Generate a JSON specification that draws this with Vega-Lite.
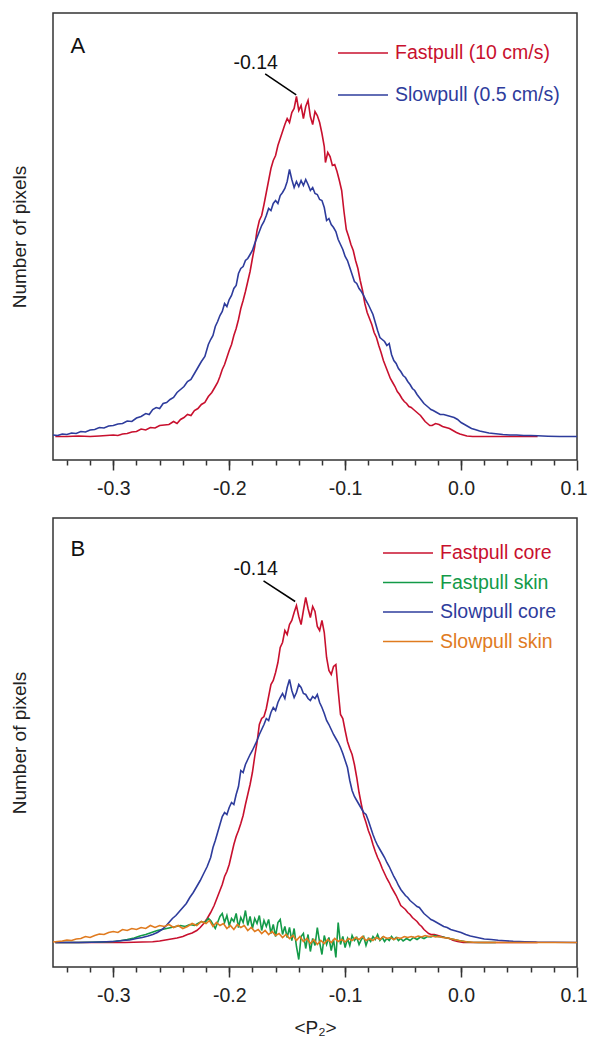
{
"$schema": "https://vega.github.io/schema/vega-lite/v6.json",
"padding": {"left": 9, "top": 12, "right": 15, "bottom": 80},
"background": "white",
"config": {
  "font": "Liberation Sans",
  "view": {"stroke": "#333333", "strokeWidth": 1.5},
  "axis": {"grid": false, "domain": false, "labelFont": "Liberation Sans", "titleFont": "Liberation Sans"},
  "axisY": {"title": "Number of pixels", "titleFontSize": 19, "titleFontWeight": "normal", "titleColor": "#222222", "titlePadding": 24, "labels": false, "ticks": false, "domain": false, "grid": false},
  "legend": {"labelFont": "Liberation Sans"}
},
"datasets": {
"a": [
{"s":"Fastpull (10 cm/s)","x":-0.35,"n":0},{"s":"Fastpull (10 cm/s)","x":-0.34,"n":0},{"s":"Fastpull (10 cm/s)","x":-0.33,"n":0.5},{"s":"Fastpull (10 cm/s)","x":-0.32,"n":0},{"s":"Fastpull (10 cm/s)","x":-0.312,"n":0.5},{"s":"Fastpull (10 cm/s)","x":-0.306,"n":1},{"s":"Fastpull (10 cm/s)","x":-0.3,"n":1.5},{"s":"Fastpull (10 cm/s)","x":-0.296,"n":1},{"s":"Fastpull (10 cm/s)","x":-0.292,"n":2.5},{"s":"Fastpull (10 cm/s)","x":-0.288,"n":3},{"s":"Fastpull (10 cm/s)","x":-0.284,"n":4.5},{"s":"Fastpull (10 cm/s)","x":-0.28,"n":5},{"s":"Fastpull (10 cm/s)","x":-0.276,"n":7.5},{"s":"Fastpull (10 cm/s)","x":-0.272,"n":6.5},{"s":"Fastpull (10 cm/s)","x":-0.268,"n":9},{"s":"Fastpull (10 cm/s)","x":-0.264,"n":8.5},{"s":"Fastpull (10 cm/s)","x":-0.26,"n":11},{"s":"Fastpull (10 cm/s)","x":-0.256,"n":11.5},{"s":"Fastpull (10 cm/s)","x":-0.252,"n":12},{"s":"Fastpull (10 cm/s)","x":-0.248,"n":15},{"s":"Fastpull (10 cm/s)","x":-0.245,"n":13},{"s":"Fastpull (10 cm/s)","x":-0.242,"n":17},{"s":"Fastpull (10 cm/s)","x":-0.239,"n":19},{"s":"Fastpull (10 cm/s)","x":-0.236,"n":22},{"s":"Fastpull (10 cm/s)","x":-0.233,"n":21},{"s":"Fastpull (10 cm/s)","x":-0.23,"n":26},{"s":"Fastpull (10 cm/s)","x":-0.227,"n":28},{"s":"Fastpull (10 cm/s)","x":-0.224,"n":32},{"s":"Fastpull (10 cm/s)","x":-0.221,"n":34},{"s":"Fastpull (10 cm/s)","x":-0.218,"n":40},{"s":"Fastpull (10 cm/s)","x":-0.215,"n":44},{"s":"Fastpull (10 cm/s)","x":-0.212,"n":50},{"s":"Fastpull (10 cm/s)","x":-0.21,"n":54},{"s":"Fastpull (10 cm/s)","x":-0.208,"n":60},{"s":"Fastpull (10 cm/s)","x":-0.206,"n":67},{"s":"Fastpull (10 cm/s)","x":-0.204,"n":72},{"s":"Fastpull (10 cm/s)","x":-0.202,"n":79},{"s":"Fastpull (10 cm/s)","x":-0.2,"n":86},{"s":"Fastpull (10 cm/s)","x":-0.198,"n":92},{"s":"Fastpull (10 cm/s)","x":-0.196,"n":101},{"s":"Fastpull (10 cm/s)","x":-0.194,"n":108},{"s":"Fastpull (10 cm/s)","x":-0.192,"n":117},{"s":"Fastpull (10 cm/s)","x":-0.19,"n":128},{"s":"Fastpull (10 cm/s)","x":-0.188,"n":136},{"s":"Fastpull (10 cm/s)","x":-0.186,"n":145},{"s":"Fastpull (10 cm/s)","x":-0.184,"n":155},{"s":"Fastpull (10 cm/s)","x":-0.182,"n":165},{"s":"Fastpull (10 cm/s)","x":-0.18,"n":178},{"s":"Fastpull (10 cm/s)","x":-0.178,"n":190},{"s":"Fastpull (10 cm/s)","x":-0.176,"n":206},{"s":"Fastpull (10 cm/s)","x":-0.174,"n":216},{"s":"Fastpull (10 cm/s)","x":-0.172,"n":221},{"s":"Fastpull (10 cm/s)","x":-0.17,"n":232},{"s":"Fastpull (10 cm/s)","x":-0.168,"n":244},{"s":"Fastpull (10 cm/s)","x":-0.166,"n":256},{"s":"Fastpull (10 cm/s)","x":-0.164,"n":268},{"s":"Fastpull (10 cm/s)","x":-0.162,"n":276},{"s":"Fastpull (10 cm/s)","x":-0.16,"n":281},{"s":"Fastpull (10 cm/s)","x":-0.158,"n":291},{"s":"Fastpull (10 cm/s)","x":-0.156,"n":298},{"s":"Fastpull (10 cm/s)","x":-0.154,"n":305},{"s":"Fastpull (10 cm/s)","x":-0.152,"n":312},{"s":"Fastpull (10 cm/s)","x":-0.15,"n":318},{"s":"Fastpull (10 cm/s)","x":-0.148,"n":314},{"s":"Fastpull (10 cm/s)","x":-0.146,"n":324},{"s":"Fastpull (10 cm/s)","x":-0.144,"n":328},{"s":"Fastpull (10 cm/s)","x":-0.142,"n":340},{"s":"Fastpull (10 cm/s)","x":-0.14,"n":326},{"s":"Fastpull (10 cm/s)","x":-0.138,"n":331},{"s":"Fastpull (10 cm/s)","x":-0.136,"n":318},{"s":"Fastpull (10 cm/s)","x":-0.134,"n":330},{"s":"Fastpull (10 cm/s)","x":-0.132,"n":336},{"s":"Fastpull (10 cm/s)","x":-0.13,"n":320},{"s":"Fastpull (10 cm/s)","x":-0.128,"n":312},{"s":"Fastpull (10 cm/s)","x":-0.126,"n":325},{"s":"Fastpull (10 cm/s)","x":-0.124,"n":321},{"s":"Fastpull (10 cm/s)","x":-0.122,"n":314},{"s":"Fastpull (10 cm/s)","x":-0.12,"n":303},{"s":"Fastpull (10 cm/s)","x":-0.118,"n":290},{"s":"Fastpull (10 cm/s)","x":-0.117,"n":274},{"s":"Fastpull (10 cm/s)","x":-0.115,"n":284},{"s":"Fastpull (10 cm/s)","x":-0.113,"n":280},{"s":"Fastpull (10 cm/s)","x":-0.111,"n":271},{"s":"Fastpull (10 cm/s)","x":-0.109,"n":272},{"s":"Fastpull (10 cm/s)","x":-0.107,"n":265},{"s":"Fastpull (10 cm/s)","x":-0.105,"n":256},{"s":"Fastpull (10 cm/s)","x":-0.103,"n":246},{"s":"Fastpull (10 cm/s)","x":-0.101,"n":225},{"s":"Fastpull (10 cm/s)","x":-0.099,"n":207},{"s":"Fastpull (10 cm/s)","x":-0.097,"n":200},{"s":"Fastpull (10 cm/s)","x":-0.095,"n":192},{"s":"Fastpull (10 cm/s)","x":-0.093,"n":186},{"s":"Fastpull (10 cm/s)","x":-0.091,"n":176},{"s":"Fastpull (10 cm/s)","x":-0.089,"n":168},{"s":"Fastpull (10 cm/s)","x":-0.087,"n":156},{"s":"Fastpull (10 cm/s)","x":-0.085,"n":146},{"s":"Fastpull (10 cm/s)","x":-0.083,"n":133},{"s":"Fastpull (10 cm/s)","x":-0.081,"n":124},{"s":"Fastpull (10 cm/s)","x":-0.079,"n":118},{"s":"Fastpull (10 cm/s)","x":-0.077,"n":112},{"s":"Fastpull (10 cm/s)","x":-0.075,"n":104},{"s":"Fastpull (10 cm/s)","x":-0.073,"n":99},{"s":"Fastpull (10 cm/s)","x":-0.071,"n":91},{"s":"Fastpull (10 cm/s)","x":-0.069,"n":84},{"s":"Fastpull (10 cm/s)","x":-0.067,"n":76},{"s":"Fastpull (10 cm/s)","x":-0.065,"n":70},{"s":"Fastpull (10 cm/s)","x":-0.063,"n":64},{"s":"Fastpull (10 cm/s)","x":-0.061,"n":58},{"s":"Fastpull (10 cm/s)","x":-0.059,"n":54},{"s":"Fastpull (10 cm/s)","x":-0.057,"n":50},{"s":"Fastpull (10 cm/s)","x":-0.055,"n":45},{"s":"Fastpull (10 cm/s)","x":-0.053,"n":42},{"s":"Fastpull (10 cm/s)","x":-0.051,"n":38},{"s":"Fastpull (10 cm/s)","x":-0.049,"n":35},{"s":"Fastpull (10 cm/s)","x":-0.047,"n":33},{"s":"Fastpull (10 cm/s)","x":-0.045,"n":30},{"s":"Fastpull (10 cm/s)","x":-0.043,"n":29},{"s":"Fastpull (10 cm/s)","x":-0.041,"n":27},{"s":"Fastpull (10 cm/s)","x":-0.039,"n":25},{"s":"Fastpull (10 cm/s)","x":-0.037,"n":23},{"s":"Fastpull (10 cm/s)","x":-0.035,"n":21},{"s":"Fastpull (10 cm/s)","x":-0.033,"n":18},{"s":"Fastpull (10 cm/s)","x":-0.031,"n":15},{"s":"Fastpull (10 cm/s)","x":-0.029,"n":13},{"s":"Fastpull (10 cm/s)","x":-0.027,"n":11},{"s":"Fastpull (10 cm/s)","x":-0.025,"n":11},{"s":"Fastpull (10 cm/s)","x":-0.022,"n":13},{"s":"Fastpull (10 cm/s)","x":-0.019,"n":12},{"s":"Fastpull (10 cm/s)","x":-0.016,"n":10},{"s":"Fastpull (10 cm/s)","x":-0.013,"n":9},{"s":"Fastpull (10 cm/s)","x":-0.01,"n":8},{"s":"Fastpull (10 cm/s)","x":-0.007,"n":6},{"s":"Fastpull (10 cm/s)","x":-0.004,"n":4},{"s":"Fastpull (10 cm/s)","x":-0.001,"n":2.5},{"s":"Fastpull (10 cm/s)","x":0.002,"n":1.5},{"s":"Fastpull (10 cm/s)","x":0.005,"n":0.5},{"s":"Fastpull (10 cm/s)","x":0.01,"n":0},{"s":"Fastpull (10 cm/s)","x":0.03,"n":0},{"s":"Fastpull (10 cm/s)","x":0.05,"n":0},{"s":"Fastpull (10 cm/s)","x":0.066,"n":0},
{"s":"Slowpull (0.5 cm/s)","x":-0.352,"n":1.5},{"s":"Slowpull (0.5 cm/s)","x":-0.348,"n":1},{"s":"Slowpull (0.5 cm/s)","x":-0.344,"n":2.5},{"s":"Slowpull (0.5 cm/s)","x":-0.34,"n":2},{"s":"Slowpull (0.5 cm/s)","x":-0.336,"n":3.5},{"s":"Slowpull (0.5 cm/s)","x":-0.332,"n":3},{"s":"Slowpull (0.5 cm/s)","x":-0.328,"n":5},{"s":"Slowpull (0.5 cm/s)","x":-0.324,"n":4.5},{"s":"Slowpull (0.5 cm/s)","x":-0.32,"n":6.5},{"s":"Slowpull (0.5 cm/s)","x":-0.316,"n":7},{"s":"Slowpull (0.5 cm/s)","x":-0.312,"n":9},{"s":"Slowpull (0.5 cm/s)","x":-0.308,"n":8.5},{"s":"Slowpull (0.5 cm/s)","x":-0.304,"n":10.5},{"s":"Slowpull (0.5 cm/s)","x":-0.3,"n":11},{"s":"Slowpull (0.5 cm/s)","x":-0.296,"n":12.5},{"s":"Slowpull (0.5 cm/s)","x":-0.292,"n":13},{"s":"Slowpull (0.5 cm/s)","x":-0.288,"n":15.5},{"s":"Slowpull (0.5 cm/s)","x":-0.284,"n":15},{"s":"Slowpull (0.5 cm/s)","x":-0.28,"n":18.5},{"s":"Slowpull (0.5 cm/s)","x":-0.276,"n":20},{"s":"Slowpull (0.5 cm/s)","x":-0.272,"n":23},{"s":"Slowpull (0.5 cm/s)","x":-0.269,"n":22},{"s":"Slowpull (0.5 cm/s)","x":-0.266,"n":27},{"s":"Slowpull (0.5 cm/s)","x":-0.263,"n":29},{"s":"Slowpull (0.5 cm/s)","x":-0.26,"n":28},{"s":"Slowpull (0.5 cm/s)","x":-0.257,"n":33},{"s":"Slowpull (0.5 cm/s)","x":-0.254,"n":34},{"s":"Slowpull (0.5 cm/s)","x":-0.251,"n":37},{"s":"Slowpull (0.5 cm/s)","x":-0.248,"n":39},{"s":"Slowpull (0.5 cm/s)","x":-0.245,"n":44},{"s":"Slowpull (0.5 cm/s)","x":-0.242,"n":47},{"s":"Slowpull (0.5 cm/s)","x":-0.239,"n":50},{"s":"Slowpull (0.5 cm/s)","x":-0.236,"n":55},{"s":"Slowpull (0.5 cm/s)","x":-0.233,"n":57},{"s":"Slowpull (0.5 cm/s)","x":-0.23,"n":63},{"s":"Slowpull (0.5 cm/s)","x":-0.227,"n":69},{"s":"Slowpull (0.5 cm/s)","x":-0.224,"n":75},{"s":"Slowpull (0.5 cm/s)","x":-0.221,"n":80},{"s":"Slowpull (0.5 cm/s)","x":-0.218,"n":92},{"s":"Slowpull (0.5 cm/s)","x":-0.216,"n":97},{"s":"Slowpull (0.5 cm/s)","x":-0.214,"n":101},{"s":"Slowpull (0.5 cm/s)","x":-0.212,"n":110},{"s":"Slowpull (0.5 cm/s)","x":-0.21,"n":115},{"s":"Slowpull (0.5 cm/s)","x":-0.208,"n":121},{"s":"Slowpull (0.5 cm/s)","x":-0.206,"n":125},{"s":"Slowpull (0.5 cm/s)","x":-0.204,"n":133},{"s":"Slowpull (0.5 cm/s)","x":-0.202,"n":130},{"s":"Slowpull (0.5 cm/s)","x":-0.2,"n":137},{"s":"Slowpull (0.5 cm/s)","x":-0.198,"n":141},{"s":"Slowpull (0.5 cm/s)","x":-0.196,"n":148},{"s":"Slowpull (0.5 cm/s)","x":-0.194,"n":151},{"s":"Slowpull (0.5 cm/s)","x":-0.192,"n":163},{"s":"Slowpull (0.5 cm/s)","x":-0.19,"n":168},{"s":"Slowpull (0.5 cm/s)","x":-0.188,"n":170},{"s":"Slowpull (0.5 cm/s)","x":-0.186,"n":176},{"s":"Slowpull (0.5 cm/s)","x":-0.184,"n":178},{"s":"Slowpull (0.5 cm/s)","x":-0.182,"n":182},{"s":"Slowpull (0.5 cm/s)","x":-0.18,"n":186},{"s":"Slowpull (0.5 cm/s)","x":-0.178,"n":193},{"s":"Slowpull (0.5 cm/s)","x":-0.176,"n":199},{"s":"Slowpull (0.5 cm/s)","x":-0.174,"n":205},{"s":"Slowpull (0.5 cm/s)","x":-0.172,"n":211},{"s":"Slowpull (0.5 cm/s)","x":-0.17,"n":215},{"s":"Slowpull (0.5 cm/s)","x":-0.168,"n":221},{"s":"Slowpull (0.5 cm/s)","x":-0.166,"n":228},{"s":"Slowpull (0.5 cm/s)","x":-0.164,"n":226},{"s":"Slowpull (0.5 cm/s)","x":-0.162,"n":233},{"s":"Slowpull (0.5 cm/s)","x":-0.16,"n":236},{"s":"Slowpull (0.5 cm/s)","x":-0.158,"n":233},{"s":"Slowpull (0.5 cm/s)","x":-0.156,"n":241},{"s":"Slowpull (0.5 cm/s)","x":-0.154,"n":244},{"s":"Slowpull (0.5 cm/s)","x":-0.152,"n":248},{"s":"Slowpull (0.5 cm/s)","x":-0.15,"n":255},{"s":"Slowpull (0.5 cm/s)","x":-0.148,"n":267},{"s":"Slowpull (0.5 cm/s)","x":-0.146,"n":257},{"s":"Slowpull (0.5 cm/s)","x":-0.144,"n":249},{"s":"Slowpull (0.5 cm/s)","x":-0.142,"n":255},{"s":"Slowpull (0.5 cm/s)","x":-0.14,"n":250},{"s":"Slowpull (0.5 cm/s)","x":-0.138,"n":256},{"s":"Slowpull (0.5 cm/s)","x":-0.136,"n":251},{"s":"Slowpull (0.5 cm/s)","x":-0.134,"n":257},{"s":"Slowpull (0.5 cm/s)","x":-0.132,"n":252},{"s":"Slowpull (0.5 cm/s)","x":-0.13,"n":246},{"s":"Slowpull (0.5 cm/s)","x":-0.128,"n":249},{"s":"Slowpull (0.5 cm/s)","x":-0.126,"n":243},{"s":"Slowpull (0.5 cm/s)","x":-0.124,"n":242},{"s":"Slowpull (0.5 cm/s)","x":-0.122,"n":237},{"s":"Slowpull (0.5 cm/s)","x":-0.12,"n":236},{"s":"Slowpull (0.5 cm/s)","x":-0.118,"n":229},{"s":"Slowpull (0.5 cm/s)","x":-0.116,"n":216},{"s":"Slowpull (0.5 cm/s)","x":-0.114,"n":218},{"s":"Slowpull (0.5 cm/s)","x":-0.112,"n":212},{"s":"Slowpull (0.5 cm/s)","x":-0.11,"n":209},{"s":"Slowpull (0.5 cm/s)","x":-0.108,"n":205},{"s":"Slowpull (0.5 cm/s)","x":-0.106,"n":197},{"s":"Slowpull (0.5 cm/s)","x":-0.104,"n":192},{"s":"Slowpull (0.5 cm/s)","x":-0.102,"n":187},{"s":"Slowpull (0.5 cm/s)","x":-0.1,"n":180},{"s":"Slowpull (0.5 cm/s)","x":-0.098,"n":176},{"s":"Slowpull (0.5 cm/s)","x":-0.096,"n":169},{"s":"Slowpull (0.5 cm/s)","x":-0.094,"n":162},{"s":"Slowpull (0.5 cm/s)","x":-0.092,"n":155},{"s":"Slowpull (0.5 cm/s)","x":-0.09,"n":153},{"s":"Slowpull (0.5 cm/s)","x":-0.088,"n":148},{"s":"Slowpull (0.5 cm/s)","x":-0.086,"n":145},{"s":"Slowpull (0.5 cm/s)","x":-0.084,"n":141},{"s":"Slowpull (0.5 cm/s)","x":-0.082,"n":136},{"s":"Slowpull (0.5 cm/s)","x":-0.08,"n":132},{"s":"Slowpull (0.5 cm/s)","x":-0.078,"n":127},{"s":"Slowpull (0.5 cm/s)","x":-0.076,"n":122},{"s":"Slowpull (0.5 cm/s)","x":-0.074,"n":114},{"s":"Slowpull (0.5 cm/s)","x":-0.072,"n":106},{"s":"Slowpull (0.5 cm/s)","x":-0.07,"n":99},{"s":"Slowpull (0.5 cm/s)","x":-0.068,"n":97},{"s":"Slowpull (0.5 cm/s)","x":-0.066,"n":95},{"s":"Slowpull (0.5 cm/s)","x":-0.064,"n":91},{"s":"Slowpull (0.5 cm/s)","x":-0.062,"n":93},{"s":"Slowpull (0.5 cm/s)","x":-0.06,"n":82},{"s":"Slowpull (0.5 cm/s)","x":-0.058,"n":76},{"s":"Slowpull (0.5 cm/s)","x":-0.056,"n":73},{"s":"Slowpull (0.5 cm/s)","x":-0.054,"n":68},{"s":"Slowpull (0.5 cm/s)","x":-0.052,"n":65},{"s":"Slowpull (0.5 cm/s)","x":-0.05,"n":61},{"s":"Slowpull (0.5 cm/s)","x":-0.048,"n":59},{"s":"Slowpull (0.5 cm/s)","x":-0.046,"n":55},{"s":"Slowpull (0.5 cm/s)","x":-0.044,"n":52},{"s":"Slowpull (0.5 cm/s)","x":-0.042,"n":48},{"s":"Slowpull (0.5 cm/s)","x":-0.04,"n":46},{"s":"Slowpull (0.5 cm/s)","x":-0.038,"n":42},{"s":"Slowpull (0.5 cm/s)","x":-0.036,"n":39},{"s":"Slowpull (0.5 cm/s)","x":-0.034,"n":36},{"s":"Slowpull (0.5 cm/s)","x":-0.032,"n":33},{"s":"Slowpull (0.5 cm/s)","x":-0.03,"n":31},{"s":"Slowpull (0.5 cm/s)","x":-0.028,"n":29},{"s":"Slowpull (0.5 cm/s)","x":-0.026,"n":27},{"s":"Slowpull (0.5 cm/s)","x":-0.024,"n":26},{"s":"Slowpull (0.5 cm/s)","x":-0.021,"n":24},{"s":"Slowpull (0.5 cm/s)","x":-0.018,"n":22},{"s":"Slowpull (0.5 cm/s)","x":-0.015,"n":22},{"s":"Slowpull (0.5 cm/s)","x":-0.012,"n":21},{"s":"Slowpull (0.5 cm/s)","x":-0.009,"n":20},{"s":"Slowpull (0.5 cm/s)","x":-0.006,"n":19},{"s":"Slowpull (0.5 cm/s)","x":-0.003,"n":17},{"s":"Slowpull (0.5 cm/s)","x":0,"n":14},{"s":"Slowpull (0.5 cm/s)","x":0.003,"n":12},{"s":"Slowpull (0.5 cm/s)","x":0.006,"n":10},{"s":"Slowpull (0.5 cm/s)","x":0.009,"n":8},{"s":"Slowpull (0.5 cm/s)","x":0.012,"n":7},{"s":"Slowpull (0.5 cm/s)","x":0.016,"n":5.5},{"s":"Slowpull (0.5 cm/s)","x":0.02,"n":4.5},{"s":"Slowpull (0.5 cm/s)","x":0.024,"n":3.5},{"s":"Slowpull (0.5 cm/s)","x":0.028,"n":3},{"s":"Slowpull (0.5 cm/s)","x":0.032,"n":2.5},{"s":"Slowpull (0.5 cm/s)","x":0.036,"n":2},{"s":"Slowpull (0.5 cm/s)","x":0.042,"n":1.5},{"s":"Slowpull (0.5 cm/s)","x":0.048,"n":1.5},{"s":"Slowpull (0.5 cm/s)","x":0.054,"n":1},{"s":"Slowpull (0.5 cm/s)","x":0.06,"n":1},{"s":"Slowpull (0.5 cm/s)","x":0.066,"n":0.8},{"s":"Slowpull (0.5 cm/s)","x":0.075,"n":0.3},{"s":"Slowpull (0.5 cm/s)","x":0.085,"n":0},{"s":"Slowpull (0.5 cm/s)","x":0.1,"n":0}
],
"b": [
{"s":"Fastpull core","x":-0.35,"n":0},{"s":"Fastpull core","x":-0.33,"n":0},{"s":"Fastpull core","x":-0.31,"n":0},{"s":"Fastpull core","x":-0.29,"n":0},{"s":"Fastpull core","x":-0.275,"n":0.5},{"s":"Fastpull core","x":-0.266,"n":0.7},{"s":"Fastpull core","x":-0.26,"n":1.5},{"s":"Fastpull core","x":-0.255,"n":2.5},{"s":"Fastpull core","x":-0.25,"n":3.5},{"s":"Fastpull core","x":-0.245,"n":4.5},{"s":"Fastpull core","x":-0.24,"n":6},{"s":"Fastpull core","x":-0.236,"n":8},{"s":"Fastpull core","x":-0.232,"n":9.5},{"s":"Fastpull core","x":-0.228,"n":12},{"s":"Fastpull core","x":-0.225,"n":15},{"s":"Fastpull core","x":-0.222,"n":19},{"s":"Fastpull core","x":-0.219,"n":24},{"s":"Fastpull core","x":-0.216,"n":30},{"s":"Fastpull core","x":-0.213,"n":37},{"s":"Fastpull core","x":-0.21,"n":46},{"s":"Fastpull core","x":-0.208,"n":52},{"s":"Fastpull core","x":-0.206,"n":58},{"s":"Fastpull core","x":-0.204,"n":66},{"s":"Fastpull core","x":-0.202,"n":71},{"s":"Fastpull core","x":-0.2,"n":78},{"s":"Fastpull core","x":-0.198,"n":88},{"s":"Fastpull core","x":-0.196,"n":98},{"s":"Fastpull core","x":-0.194,"n":106},{"s":"Fastpull core","x":-0.192,"n":112},{"s":"Fastpull core","x":-0.19,"n":119},{"s":"Fastpull core","x":-0.188,"n":127},{"s":"Fastpull core","x":-0.186,"n":138},{"s":"Fastpull core","x":-0.184,"n":148},{"s":"Fastpull core","x":-0.182,"n":158},{"s":"Fastpull core","x":-0.18,"n":170},{"s":"Fastpull core","x":-0.178,"n":186},{"s":"Fastpull core","x":-0.176,"n":200},{"s":"Fastpull core","x":-0.174,"n":218},{"s":"Fastpull core","x":-0.172,"n":224},{"s":"Fastpull core","x":-0.17,"n":226},{"s":"Fastpull core","x":-0.168,"n":234},{"s":"Fastpull core","x":-0.166,"n":246},{"s":"Fastpull core","x":-0.164,"n":258},{"s":"Fastpull core","x":-0.162,"n":262},{"s":"Fastpull core","x":-0.16,"n":270},{"s":"Fastpull core","x":-0.158,"n":280},{"s":"Fastpull core","x":-0.156,"n":295},{"s":"Fastpull core","x":-0.154,"n":300},{"s":"Fastpull core","x":-0.152,"n":312},{"s":"Fastpull core","x":-0.15,"n":308},{"s":"Fastpull core","x":-0.148,"n":318},{"s":"Fastpull core","x":-0.146,"n":322},{"s":"Fastpull core","x":-0.144,"n":330},{"s":"Fastpull core","x":-0.142,"n":337},{"s":"Fastpull core","x":-0.14,"n":326},{"s":"Fastpull core","x":-0.138,"n":318},{"s":"Fastpull core","x":-0.136,"n":332},{"s":"Fastpull core","x":-0.134,"n":345},{"s":"Fastpull core","x":-0.132,"n":334},{"s":"Fastpull core","x":-0.13,"n":325},{"s":"Fastpull core","x":-0.128,"n":336},{"s":"Fastpull core","x":-0.126,"n":331},{"s":"Fastpull core","x":-0.124,"n":316},{"s":"Fastpull core","x":-0.122,"n":312},{"s":"Fastpull core","x":-0.12,"n":322},{"s":"Fastpull core","x":-0.118,"n":310},{"s":"Fastpull core","x":-0.116,"n":285},{"s":"Fastpull core","x":-0.114,"n":272},{"s":"Fastpull core","x":-0.112,"n":268},{"s":"Fastpull core","x":-0.11,"n":276},{"s":"Fastpull core","x":-0.108,"n":278},{"s":"Fastpull core","x":-0.106,"n":252},{"s":"Fastpull core","x":-0.104,"n":228},{"s":"Fastpull core","x":-0.102,"n":224},{"s":"Fastpull core","x":-0.1,"n":212},{"s":"Fastpull core","x":-0.098,"n":201},{"s":"Fastpull core","x":-0.096,"n":194},{"s":"Fastpull core","x":-0.094,"n":188},{"s":"Fastpull core","x":-0.092,"n":178},{"s":"Fastpull core","x":-0.09,"n":165},{"s":"Fastpull core","x":-0.088,"n":150},{"s":"Fastpull core","x":-0.086,"n":138},{"s":"Fastpull core","x":-0.084,"n":127},{"s":"Fastpull core","x":-0.082,"n":120},{"s":"Fastpull core","x":-0.08,"n":112},{"s":"Fastpull core","x":-0.078,"n":106},{"s":"Fastpull core","x":-0.076,"n":98},{"s":"Fastpull core","x":-0.074,"n":91},{"s":"Fastpull core","x":-0.072,"n":85},{"s":"Fastpull core","x":-0.07,"n":80},{"s":"Fastpull core","x":-0.068,"n":74},{"s":"Fastpull core","x":-0.066,"n":69},{"s":"Fastpull core","x":-0.064,"n":64},{"s":"Fastpull core","x":-0.062,"n":60},{"s":"Fastpull core","x":-0.06,"n":55},{"s":"Fastpull core","x":-0.058,"n":51},{"s":"Fastpull core","x":-0.056,"n":47},{"s":"Fastpull core","x":-0.054,"n":42},{"s":"Fastpull core","x":-0.052,"n":37},{"s":"Fastpull core","x":-0.05,"n":35},{"s":"Fastpull core","x":-0.048,"n":33},{"s":"Fastpull core","x":-0.046,"n":30},{"s":"Fastpull core","x":-0.044,"n":28},{"s":"Fastpull core","x":-0.042,"n":25},{"s":"Fastpull core","x":-0.04,"n":23},{"s":"Fastpull core","x":-0.038,"n":21},{"s":"Fastpull core","x":-0.036,"n":18},{"s":"Fastpull core","x":-0.034,"n":16},{"s":"Fastpull core","x":-0.032,"n":13},{"s":"Fastpull core","x":-0.03,"n":11},{"s":"Fastpull core","x":-0.028,"n":9},{"s":"Fastpull core","x":-0.026,"n":8},{"s":"Fastpull core","x":-0.023,"n":8},{"s":"Fastpull core","x":-0.02,"n":7},{"s":"Fastpull core","x":-0.017,"n":6},{"s":"Fastpull core","x":-0.014,"n":5},{"s":"Fastpull core","x":-0.01,"n":4},{"s":"Fastpull core","x":-0.007,"n":2.3},{"s":"Fastpull core","x":-0.003,"n":1},{"s":"Fastpull core","x":0.002,"n":0},{"s":"Fastpull core","x":0.02,"n":0},{"s":"Fastpull core","x":0.05,"n":0},{"s":"Fastpull core","x":0.066,"n":0},
{"s":"Fastpull skin","x":-0.35,"n":0},{"s":"Fastpull skin","x":-0.33,"n":0},{"s":"Fastpull skin","x":-0.31,"n":0.5},{"s":"Fastpull skin","x":-0.3,"n":1},{"s":"Fastpull skin","x":-0.294,"n":1.7},{"s":"Fastpull skin","x":-0.288,"n":3},{"s":"Fastpull skin","x":-0.282,"n":4.5},{"s":"Fastpull skin","x":-0.277,"n":6.5},{"s":"Fastpull skin","x":-0.272,"n":8},{"s":"Fastpull skin","x":-0.267,"n":10},{"s":"Fastpull skin","x":-0.262,"n":12},{"s":"Fastpull skin","x":-0.258,"n":13},{"s":"Fastpull skin","x":-0.254,"n":14},{"s":"Fastpull skin","x":-0.25,"n":15},{"s":"Fastpull skin","x":-0.246,"n":16},{"s":"Fastpull skin","x":-0.242,"n":17},{"s":"Fastpull skin","x":-0.238,"n":16},{"s":"Fastpull skin","x":-0.234,"n":18},{"s":"Fastpull skin","x":-0.23,"n":17},{"s":"Fastpull skin","x":-0.227,"n":19},{"s":"Fastpull skin","x":-0.224,"n":21},{"s":"Fastpull skin","x":-0.221,"n":20},{"s":"Fastpull skin","x":-0.218,"n":24},{"s":"Fastpull skin","x":-0.216,"n":22},{"s":"Fastpull skin","x":-0.214,"n":18},{"s":"Fastpull skin","x":-0.212,"n":14},{"s":"Fastpull skin","x":-0.21,"n":20},{"s":"Fastpull skin","x":-0.208,"n":26},{"s":"Fastpull skin","x":-0.206,"n":29},{"s":"Fastpull skin","x":-0.204,"n":20},{"s":"Fastpull skin","x":-0.202,"n":27},{"s":"Fastpull skin","x":-0.2,"n":17},{"s":"Fastpull skin","x":-0.198,"n":24},{"s":"Fastpull skin","x":-0.196,"n":21},{"s":"Fastpull skin","x":-0.194,"n":29},{"s":"Fastpull skin","x":-0.192,"n":15},{"s":"Fastpull skin","x":-0.19,"n":25},{"s":"Fastpull skin","x":-0.188,"n":20},{"s":"Fastpull skin","x":-0.186,"n":32},{"s":"Fastpull skin","x":-0.184,"n":17},{"s":"Fastpull skin","x":-0.182,"n":26},{"s":"Fastpull skin","x":-0.18,"n":14},{"s":"Fastpull skin","x":-0.178,"n":24},{"s":"Fastpull skin","x":-0.176,"n":19},{"s":"Fastpull skin","x":-0.174,"n":27},{"s":"Fastpull skin","x":-0.172,"n":12},{"s":"Fastpull skin","x":-0.17,"n":22},{"s":"Fastpull skin","x":-0.168,"n":16},{"s":"Fastpull skin","x":-0.166,"n":23},{"s":"Fastpull skin","x":-0.164,"n":9},{"s":"Fastpull skin","x":-0.162,"n":18},{"s":"Fastpull skin","x":-0.16,"n":6},{"s":"Fastpull skin","x":-0.158,"n":20},{"s":"Fastpull skin","x":-0.156,"n":23},{"s":"Fastpull skin","x":-0.154,"n":8},{"s":"Fastpull skin","x":-0.152,"n":16},{"s":"Fastpull skin","x":-0.15,"n":5},{"s":"Fastpull skin","x":-0.148,"n":15},{"s":"Fastpull skin","x":-0.146,"n":2},{"s":"Fastpull skin","x":-0.144,"n":14},{"s":"Fastpull skin","x":-0.142,"n":-4},{"s":"Fastpull skin","x":-0.14,"n":-17},{"s":"Fastpull skin","x":-0.138,"n":6},{"s":"Fastpull skin","x":-0.136,"n":9},{"s":"Fastpull skin","x":-0.134,"n":-6},{"s":"Fastpull skin","x":-0.132,"n":8},{"s":"Fastpull skin","x":-0.13,"n":-9},{"s":"Fastpull skin","x":-0.128,"n":4},{"s":"Fastpull skin","x":-0.126,"n":-3},{"s":"Fastpull skin","x":-0.124,"n":15},{"s":"Fastpull skin","x":-0.122,"n":0},{"s":"Fastpull skin","x":-0.12,"n":-12},{"s":"Fastpull skin","x":-0.118,"n":7},{"s":"Fastpull skin","x":-0.116,"n":-2},{"s":"Fastpull skin","x":-0.114,"n":5},{"s":"Fastpull skin","x":-0.112,"n":-8},{"s":"Fastpull skin","x":-0.11,"n":3},{"s":"Fastpull skin","x":-0.108,"n":-15},{"s":"Fastpull skin","x":-0.106,"n":20},{"s":"Fastpull skin","x":-0.104,"n":-2},{"s":"Fastpull skin","x":-0.102,"n":6},{"s":"Fastpull skin","x":-0.1,"n":-5},{"s":"Fastpull skin","x":-0.098,"n":4},{"s":"Fastpull skin","x":-0.096,"n":-3},{"s":"Fastpull skin","x":-0.094,"n":7},{"s":"Fastpull skin","x":-0.092,"n":2},{"s":"Fastpull skin","x":-0.09,"n":5},{"s":"Fastpull skin","x":-0.088,"n":-2},{"s":"Fastpull skin","x":-0.086,"n":3},{"s":"Fastpull skin","x":-0.084,"n":6},{"s":"Fastpull skin","x":-0.082,"n":-3},{"s":"Fastpull skin","x":-0.08,"n":4},{"s":"Fastpull skin","x":-0.078,"n":1},{"s":"Fastpull skin","x":-0.076,"n":6},{"s":"Fastpull skin","x":-0.074,"n":3},{"s":"Fastpull skin","x":-0.072,"n":8},{"s":"Fastpull skin","x":-0.07,"n":2},{"s":"Fastpull skin","x":-0.068,"n":5},{"s":"Fastpull skin","x":-0.066,"n":1},{"s":"Fastpull skin","x":-0.064,"n":4},{"s":"Fastpull skin","x":-0.062,"n":2},{"s":"Fastpull skin","x":-0.06,"n":6},{"s":"Fastpull skin","x":-0.058,"n":3},{"s":"Fastpull skin","x":-0.056,"n":5},{"s":"Fastpull skin","x":-0.054,"n":2},{"s":"Fastpull skin","x":-0.052,"n":4},{"s":"Fastpull skin","x":-0.05,"n":1.5},{"s":"Fastpull skin","x":-0.047,"n":4},{"s":"Fastpull skin","x":-0.044,"n":2},{"s":"Fastpull skin","x":-0.041,"n":5},{"s":"Fastpull skin","x":-0.038,"n":3},{"s":"Fastpull skin","x":-0.035,"n":5.5},{"s":"Fastpull skin","x":-0.032,"n":4},{"s":"Fastpull skin","x":-0.029,"n":6},{"s":"Fastpull skin","x":-0.026,"n":5.5},{"s":"Fastpull skin","x":-0.023,"n":7},{"s":"Fastpull skin","x":-0.02,"n":6},{"s":"Fastpull skin","x":-0.017,"n":5.5},{"s":"Fastpull skin","x":-0.014,"n":5},{"s":"Fastpull skin","x":-0.01,"n":4},{"s":"Fastpull skin","x":-0.006,"n":3},{"s":"Fastpull skin","x":-0.002,"n":2},{"s":"Fastpull skin","x":0.003,"n":1},{"s":"Fastpull skin","x":0.008,"n":0.3},{"s":"Fastpull skin","x":0.015,"n":0},{"s":"Fastpull skin","x":0.03,"n":0},
{"s":"Slowpull core","x":-0.35,"n":0},{"s":"Slowpull core","x":-0.33,"n":0},{"s":"Slowpull core","x":-0.318,"n":0.3},{"s":"Slowpull core","x":-0.306,"n":0.8},{"s":"Slowpull core","x":-0.298,"n":1.2},{"s":"Slowpull core","x":-0.292,"n":2},{"s":"Slowpull core","x":-0.286,"n":2.5},{"s":"Slowpull core","x":-0.28,"n":4},{"s":"Slowpull core","x":-0.275,"n":5},{"s":"Slowpull core","x":-0.27,"n":6.5},{"s":"Slowpull core","x":-0.266,"n":8},{"s":"Slowpull core","x":-0.262,"n":10},{"s":"Slowpull core","x":-0.258,"n":13},{"s":"Slowpull core","x":-0.255,"n":16},{"s":"Slowpull core","x":-0.252,"n":20},{"s":"Slowpull core","x":-0.249,"n":24},{"s":"Slowpull core","x":-0.246,"n":27},{"s":"Slowpull core","x":-0.243,"n":31},{"s":"Slowpull core","x":-0.24,"n":35},{"s":"Slowpull core","x":-0.237,"n":39},{"s":"Slowpull core","x":-0.234,"n":45},{"s":"Slowpull core","x":-0.231,"n":50},{"s":"Slowpull core","x":-0.228,"n":56},{"s":"Slowpull core","x":-0.225,"n":62},{"s":"Slowpull core","x":-0.222,"n":69},{"s":"Slowpull core","x":-0.219,"n":76},{"s":"Slowpull core","x":-0.216,"n":85},{"s":"Slowpull core","x":-0.214,"n":95},{"s":"Slowpull core","x":-0.212,"n":102},{"s":"Slowpull core","x":-0.21,"n":110},{"s":"Slowpull core","x":-0.208,"n":118},{"s":"Slowpull core","x":-0.206,"n":126},{"s":"Slowpull core","x":-0.204,"n":130},{"s":"Slowpull core","x":-0.202,"n":128},{"s":"Slowpull core","x":-0.2,"n":135},{"s":"Slowpull core","x":-0.198,"n":140},{"s":"Slowpull core","x":-0.196,"n":138},{"s":"Slowpull core","x":-0.194,"n":148},{"s":"Slowpull core","x":-0.192,"n":156},{"s":"Slowpull core","x":-0.19,"n":172},{"s":"Slowpull core","x":-0.188,"n":170},{"s":"Slowpull core","x":-0.186,"n":178},{"s":"Slowpull core","x":-0.184,"n":183},{"s":"Slowpull core","x":-0.182,"n":188},{"s":"Slowpull core","x":-0.18,"n":192},{"s":"Slowpull core","x":-0.178,"n":197},{"s":"Slowpull core","x":-0.176,"n":202},{"s":"Slowpull core","x":-0.174,"n":208},{"s":"Slowpull core","x":-0.172,"n":213},{"s":"Slowpull core","x":-0.17,"n":218},{"s":"Slowpull core","x":-0.168,"n":224},{"s":"Slowpull core","x":-0.166,"n":222},{"s":"Slowpull core","x":-0.164,"n":230},{"s":"Slowpull core","x":-0.162,"n":235},{"s":"Slowpull core","x":-0.16,"n":232},{"s":"Slowpull core","x":-0.158,"n":240},{"s":"Slowpull core","x":-0.156,"n":245},{"s":"Slowpull core","x":-0.154,"n":249},{"s":"Slowpull core","x":-0.152,"n":244},{"s":"Slowpull core","x":-0.15,"n":255},{"s":"Slowpull core","x":-0.148,"n":263},{"s":"Slowpull core","x":-0.146,"n":252},{"s":"Slowpull core","x":-0.144,"n":245},{"s":"Slowpull core","x":-0.142,"n":250},{"s":"Slowpull core","x":-0.14,"n":258},{"s":"Slowpull core","x":-0.138,"n":255},{"s":"Slowpull core","x":-0.136,"n":249},{"s":"Slowpull core","x":-0.134,"n":248},{"s":"Slowpull core","x":-0.132,"n":244},{"s":"Slowpull core","x":-0.13,"n":242},{"s":"Slowpull core","x":-0.128,"n":246},{"s":"Slowpull core","x":-0.126,"n":244},{"s":"Slowpull core","x":-0.124,"n":248},{"s":"Slowpull core","x":-0.122,"n":240},{"s":"Slowpull core","x":-0.12,"n":235},{"s":"Slowpull core","x":-0.118,"n":229},{"s":"Slowpull core","x":-0.116,"n":222},{"s":"Slowpull core","x":-0.114,"n":218},{"s":"Slowpull core","x":-0.112,"n":213},{"s":"Slowpull core","x":-0.11,"n":208},{"s":"Slowpull core","x":-0.108,"n":204},{"s":"Slowpull core","x":-0.106,"n":200},{"s":"Slowpull core","x":-0.104,"n":195},{"s":"Slowpull core","x":-0.102,"n":189},{"s":"Slowpull core","x":-0.1,"n":182},{"s":"Slowpull core","x":-0.098,"n":175},{"s":"Slowpull core","x":-0.096,"n":162},{"s":"Slowpull core","x":-0.094,"n":152},{"s":"Slowpull core","x":-0.092,"n":146},{"s":"Slowpull core","x":-0.09,"n":142},{"s":"Slowpull core","x":-0.088,"n":138},{"s":"Slowpull core","x":-0.086,"n":134},{"s":"Slowpull core","x":-0.084,"n":130},{"s":"Slowpull core","x":-0.082,"n":128},{"s":"Slowpull core","x":-0.08,"n":122},{"s":"Slowpull core","x":-0.078,"n":115},{"s":"Slowpull core","x":-0.076,"n":108},{"s":"Slowpull core","x":-0.074,"n":102},{"s":"Slowpull core","x":-0.072,"n":97},{"s":"Slowpull core","x":-0.07,"n":93},{"s":"Slowpull core","x":-0.068,"n":89},{"s":"Slowpull core","x":-0.066,"n":85},{"s":"Slowpull core","x":-0.064,"n":80},{"s":"Slowpull core","x":-0.062,"n":76},{"s":"Slowpull core","x":-0.06,"n":71},{"s":"Slowpull core","x":-0.058,"n":66},{"s":"Slowpull core","x":-0.056,"n":62},{"s":"Slowpull core","x":-0.054,"n":57},{"s":"Slowpull core","x":-0.052,"n":53},{"s":"Slowpull core","x":-0.05,"n":50},{"s":"Slowpull core","x":-0.048,"n":47},{"s":"Slowpull core","x":-0.046,"n":45},{"s":"Slowpull core","x":-0.044,"n":42},{"s":"Slowpull core","x":-0.042,"n":40},{"s":"Slowpull core","x":-0.04,"n":38},{"s":"Slowpull core","x":-0.038,"n":36},{"s":"Slowpull core","x":-0.036,"n":35},{"s":"Slowpull core","x":-0.034,"n":32},{"s":"Slowpull core","x":-0.032,"n":29},{"s":"Slowpull core","x":-0.03,"n":27},{"s":"Slowpull core","x":-0.028,"n":25},{"s":"Slowpull core","x":-0.026,"n":23},{"s":"Slowpull core","x":-0.024,"n":22},{"s":"Slowpull core","x":-0.021,"n":20},{"s":"Slowpull core","x":-0.018,"n":18},{"s":"Slowpull core","x":-0.015,"n":16},{"s":"Slowpull core","x":-0.012,"n":15},{"s":"Slowpull core","x":-0.009,"n":13},{"s":"Slowpull core","x":-0.006,"n":12},{"s":"Slowpull core","x":-0.003,"n":11},{"s":"Slowpull core","x":0,"n":10},{"s":"Slowpull core","x":0.004,"n":8},{"s":"Slowpull core","x":0.008,"n":6.5},{"s":"Slowpull core","x":0.012,"n":5.5},{"s":"Slowpull core","x":0.016,"n":4.5},{"s":"Slowpull core","x":0.02,"n":3.5},{"s":"Slowpull core","x":0.026,"n":3},{"s":"Slowpull core","x":0.032,"n":2.2},{"s":"Slowpull core","x":0.038,"n":1.7},{"s":"Slowpull core","x":0.045,"n":1.2},{"s":"Slowpull core","x":0.055,"n":0.8},{"s":"Slowpull core","x":0.065,"n":0.4},{"s":"Slowpull core","x":0.08,"n":0.2},{"s":"Slowpull core","x":0.1,"n":0},
{"s":"Slowpull skin","x":-0.352,"n":0.5},{"s":"Slowpull skin","x":-0.348,"n":1},{"s":"Slowpull skin","x":-0.344,"n":1.5},{"s":"Slowpull skin","x":-0.34,"n":2.5},{"s":"Slowpull skin","x":-0.336,"n":2},{"s":"Slowpull skin","x":-0.332,"n":3.5},{"s":"Slowpull skin","x":-0.328,"n":4},{"s":"Slowpull skin","x":-0.324,"n":6},{"s":"Slowpull skin","x":-0.32,"n":5},{"s":"Slowpull skin","x":-0.316,"n":7},{"s":"Slowpull skin","x":-0.312,"n":8.5},{"s":"Slowpull skin","x":-0.308,"n":8},{"s":"Slowpull skin","x":-0.304,"n":10},{"s":"Slowpull skin","x":-0.3,"n":11},{"s":"Slowpull skin","x":-0.296,"n":10},{"s":"Slowpull skin","x":-0.292,"n":13},{"s":"Slowpull skin","x":-0.288,"n":12},{"s":"Slowpull skin","x":-0.284,"n":14},{"s":"Slowpull skin","x":-0.28,"n":13},{"s":"Slowpull skin","x":-0.276,"n":15},{"s":"Slowpull skin","x":-0.272,"n":14},{"s":"Slowpull skin","x":-0.268,"n":17},{"s":"Slowpull skin","x":-0.264,"n":15},{"s":"Slowpull skin","x":-0.26,"n":17},{"s":"Slowpull skin","x":-0.256,"n":16},{"s":"Slowpull skin","x":-0.252,"n":18},{"s":"Slowpull skin","x":-0.248,"n":15},{"s":"Slowpull skin","x":-0.244,"n":17},{"s":"Slowpull skin","x":-0.24,"n":14},{"s":"Slowpull skin","x":-0.236,"n":16},{"s":"Slowpull skin","x":-0.232,"n":19},{"s":"Slowpull skin","x":-0.228,"n":17},{"s":"Slowpull skin","x":-0.224,"n":21},{"s":"Slowpull skin","x":-0.22,"n":19},{"s":"Slowpull skin","x":-0.217,"n":22},{"s":"Slowpull skin","x":-0.214,"n":16},{"s":"Slowpull skin","x":-0.211,"n":20},{"s":"Slowpull skin","x":-0.208,"n":17},{"s":"Slowpull skin","x":-0.205,"n":19},{"s":"Slowpull skin","x":-0.202,"n":14},{"s":"Slowpull skin","x":-0.199,"n":17},{"s":"Slowpull skin","x":-0.196,"n":13},{"s":"Slowpull skin","x":-0.193,"n":18},{"s":"Slowpull skin","x":-0.19,"n":15},{"s":"Slowpull skin","x":-0.187,"n":17},{"s":"Slowpull skin","x":-0.184,"n":12},{"s":"Slowpull skin","x":-0.181,"n":15},{"s":"Slowpull skin","x":-0.178,"n":11},{"s":"Slowpull skin","x":-0.175,"n":13},{"s":"Slowpull skin","x":-0.172,"n":9},{"s":"Slowpull skin","x":-0.169,"n":12},{"s":"Slowpull skin","x":-0.166,"n":8},{"s":"Slowpull skin","x":-0.163,"n":11},{"s":"Slowpull skin","x":-0.16,"n":7},{"s":"Slowpull skin","x":-0.157,"n":9},{"s":"Slowpull skin","x":-0.154,"n":5},{"s":"Slowpull skin","x":-0.151,"n":8},{"s":"Slowpull skin","x":-0.148,"n":4},{"s":"Slowpull skin","x":-0.145,"n":7},{"s":"Slowpull skin","x":-0.142,"n":2},{"s":"Slowpull skin","x":-0.139,"n":6},{"s":"Slowpull skin","x":-0.136,"n":1},{"s":"Slowpull skin","x":-0.133,"n":4},{"s":"Slowpull skin","x":-0.13,"n":-1},{"s":"Slowpull skin","x":-0.127,"n":3},{"s":"Slowpull skin","x":-0.124,"n":-2},{"s":"Slowpull skin","x":-0.121,"n":2},{"s":"Slowpull skin","x":-0.118,"n":-1},{"s":"Slowpull skin","x":-0.115,"n":3},{"s":"Slowpull skin","x":-0.112,"n":0},{"s":"Slowpull skin","x":-0.109,"n":4},{"s":"Slowpull skin","x":-0.106,"n":1},{"s":"Slowpull skin","x":-0.103,"n":3},{"s":"Slowpull skin","x":-0.1,"n":0.5},{"s":"Slowpull skin","x":-0.097,"n":4},{"s":"Slowpull skin","x":-0.094,"n":2},{"s":"Slowpull skin","x":-0.091,"n":5},{"s":"Slowpull skin","x":-0.088,"n":3},{"s":"Slowpull skin","x":-0.085,"n":6},{"s":"Slowpull skin","x":-0.082,"n":2},{"s":"Slowpull skin","x":-0.079,"n":4},{"s":"Slowpull skin","x":-0.076,"n":2},{"s":"Slowpull skin","x":-0.073,"n":5},{"s":"Slowpull skin","x":-0.07,"n":3},{"s":"Slowpull skin","x":-0.067,"n":6},{"s":"Slowpull skin","x":-0.064,"n":4},{"s":"Slowpull skin","x":-0.061,"n":5},{"s":"Slowpull skin","x":-0.058,"n":3},{"s":"Slowpull skin","x":-0.055,"n":5},{"s":"Slowpull skin","x":-0.052,"n":4},{"s":"Slowpull skin","x":-0.049,"n":6},{"s":"Slowpull skin","x":-0.046,"n":5},{"s":"Slowpull skin","x":-0.043,"n":6},{"s":"Slowpull skin","x":-0.04,"n":5},{"s":"Slowpull skin","x":-0.037,"n":6.5},{"s":"Slowpull skin","x":-0.034,"n":5.5},{"s":"Slowpull skin","x":-0.031,"n":7},{"s":"Slowpull skin","x":-0.028,"n":6},{"s":"Slowpull skin","x":-0.025,"n":6.5},{"s":"Slowpull skin","x":-0.022,"n":5.5},{"s":"Slowpull skin","x":-0.019,"n":6},{"s":"Slowpull skin","x":-0.016,"n":5},{"s":"Slowpull skin","x":-0.012,"n":4.5},{"s":"Slowpull skin","x":-0.008,"n":3.5},{"s":"Slowpull skin","x":-0.004,"n":2.5},{"s":"Slowpull skin","x":0,"n":1.5},{"s":"Slowpull skin","x":0.005,"n":0.8},{"s":"Slowpull skin","x":0.01,"n":0.3},{"s":"Slowpull skin","x":0.02,"n":0},{"s":"Slowpull skin","x":0.05,"n":0},{"s":"Slowpull skin","x":0.1,"n":0}
]
},
"bounds": "flush",
"spacing": 58,
"resolve": {"scale": {"color": "independent"}},
"vconcat": [
{
  "width": 524, "height": 447,
  "data": {"name": "a"},
  "resolve": {"axis": {"x": "independent"}},
  "layer": [
    {
      "mark": {"type": "line", "strokeWidth": 1.6},
      "encoding": {
        "x": {"field": "x", "type": "quantitative",
              "scale": {"domain": [-0.352, 0.1], "nice": false, "zero": false},
              "axis": {"orient": "bottom", "values": [-0.3, -0.2, -0.1, 0, 0.1], "labelExpr": "datum.value < -0.001 ? '-' + format(-datum.value, '.1f') : format(abs(datum.value), '.1f')", "tickSize": 10, "tickWidth": 1.5, "tickColor": "#333333", "labelFontSize": 19.5, "labelColor": "#222222", "labelPadding": 9, "labelFlush": true, "labelFlushOffset": 10, "labelOverlap": false, "domain": false, "grid": false, "title": null}},
        "y": {"field": "n", "type": "quantitative", "title": "Number of pixels",
              "scale": {"domain": [-23.5, 423.5], "nice": false, "zero": false}},
        "color": {"field": "s", "type": "nominal",
                  "scale": {"domain": ["Fastpull (10 cm/s)", "Slowpull (0.5 cm/s)"], "range": ["#c8102e", "#2e3c9c"]},
                  "legend": {"orient": "none", "legendX": 284, "legendY": 30, "title": null, "direction": "vertical", "symbolType": "stroke", "symbolSize": 2500, "symbolStrokeWidth": 1.5, "labelFontSize": 19.5, "labelOffset": 6, "labelLimit": 300, "clipHeight": 20, "rowPadding": 22, "padding": 0,
                             "encode": {"labels": {"update": {"fill": {"signal": "datum.value === 'Fastpull (10 cm/s)' ? '#c8102e' : '#2e3c9c'"}}}}}}
      }
    },
    {
      "data": {"values": [{}]},
      "mark": {"type": "rule", "color": "#000000", "strokeWidth": 1.5},
      "encoding": {
        "x": {"datum": -0.169, "type": "quantitative", "axis": {"orient": "bottom", "values": [-0.34, -0.32, -0.3, -0.28, -0.26, -0.24, -0.22, -0.2, -0.18, -0.16, -0.14, -0.12, -0.1, -0.08, -0.06, -0.04, -0.02, 0, 0.02, 0.04, 0.06, 0.08], "tickSize": 5, "tickWidth": 1.5, "tickColor": "#333333", "labels": false, "domain": false, "grid": false, "title": null}},
        "x2": {"datum": -0.1422},
        "y": {"datum": 362.7, "type": "quantitative", "title": "Number of pixels"},
        "y2": {"datum": 341.7}
      }
    },
    {
      "data": {"values": [{}]},
      "mark": {"type": "text", "fontSize": 19.5, "align": "center", "baseline": "middle", "color": "#111111"},
      "encoding": {
        "x": {"datum": -0.1772, "type": "quantitative", "axis": null},
        "y": {"datum": 374, "type": "quantitative", "title": "Number of pixels"},
        "text": {"value": "-0.14"}
      }
    },
    {
      "data": {"values": [{}]},
      "mark": {"type": "text", "fontSize": 22, "align": "left", "baseline": "middle", "color": "#111111"},
      "encoding": {
        "x": {"datum": -0.337, "type": "quantitative", "axis": null},
        "y": {"datum": 390.5, "type": "quantitative", "title": "Number of pixels"},
        "text": {"value": "A"}
      }
    }
  ]
},
{
  "width": 524, "height": 449,
  "data": {"name": "b"},
  "resolve": {"axis": {"x": "independent"}},
  "layer": [
    {
      "mark": {"type": "line", "strokeWidth": 1.6},
      "encoding": {
        "x": {"field": "x", "type": "quantitative",
              "scale": {"domain": [-0.352, 0.1], "nice": false, "zero": false},
              "axis": {"orient": "bottom", "values": [-0.3, -0.2, -0.1, 0, 0.1], "labelExpr": "datum.value < -0.001 ? '-' + format(-datum.value, '.1f') : format(abs(datum.value), '.1f')", "tickSize": 10, "tickWidth": 1.5, "tickColor": "#333333", "labelFontSize": 19.5, "labelColor": "#222222", "labelPadding": 9, "labelFlush": true, "labelFlushOffset": 10, "labelOverlap": false, "domain": false, "grid": false, "title": "<P₂>", "titleFontSize": 19, "titleFontWeight": "normal", "titleColor": "#222222", "titlePadding": 14}},
        "y": {"field": "n", "type": "quantitative", "title": "Number of pixels",
              "scale": {"domain": [-24.5, 424.5], "nice": false, "zero": false}},
        "color": {"field": "s", "type": "nominal",
                  "scale": {"domain": ["Fastpull core", "Fastpull skin", "Slowpull core", "Slowpull skin"], "range": ["#c8102e", "#139a48", "#2e3c9c", "#e07b1f"]},
                  "legend": {"orient": "none", "legendX": 329, "legendY": 25, "title": null, "direction": "vertical", "symbolType": "stroke", "symbolSize": 2500, "symbolStrokeWidth": 1.5, "labelFontSize": 19.5, "labelOffset": 6, "labelLimit": 300, "clipHeight": 20, "rowPadding": 9.5, "padding": 0,
                             "encode": {"labels": {"update": {"fill": {"signal": "datum.value === 'Fastpull core' ? '#c8102e' : datum.value === 'Fastpull skin' ? '#139a48' : datum.value === 'Slowpull core' ? '#2e3c9c' : '#e07b1f'"}}}}}}
      }
    },
    {
      "data": {"values": [{}]},
      "mark": {"type": "rule", "color": "#000000", "strokeWidth": 1.5},
      "encoding": {
        "x": {"datum": -0.1704, "type": "quantitative", "axis": {"orient": "bottom", "values": [-0.34, -0.32, -0.3, -0.28, -0.26, -0.24, -0.22, -0.2, -0.18, -0.16, -0.14, -0.12, -0.1, -0.08, -0.06, -0.04, -0.02, 0, 0.02, 0.04, 0.06, 0.08], "tickSize": 5, "tickWidth": 1.5, "tickColor": "#333333", "labels": false, "domain": false, "grid": false, "title": null}},
        "x2": {"datum": -0.1431},
        "y": {"datum": 361.7, "type": "quantitative", "title": "Number of pixels"},
        "y2": {"datum": 341}
      }
    },
    {
      "data": {"values": [{}]},
      "mark": {"type": "text", "fontSize": 19.5, "align": "center", "baseline": "middle", "color": "#111111"},
      "encoding": {
        "x": {"datum": -0.1772, "type": "quantitative", "axis": null},
        "y": {"datum": 373.5, "type": "quantitative", "title": "Number of pixels"},
        "text": {"value": "-0.14"}
      }
    },
    {
      "data": {"values": [{}]},
      "mark": {"type": "text", "fontSize": 22, "align": "left", "baseline": "middle", "color": "#111111"},
      "encoding": {
        "x": {"datum": -0.337, "type": "quantitative", "axis": null},
        "y": {"datum": 393.5, "type": "quantitative", "title": "Number of pixels"},
        "text": {"value": "B"}
      }
    }
  ]
}
]
}
